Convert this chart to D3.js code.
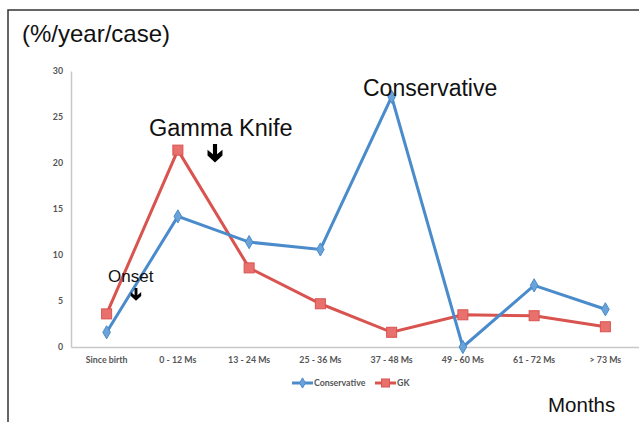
<!DOCTYPE html>
<html>
<head>
<meta charset="utf-8">
<script src="https://cdn.jsdelivr.net/npm/d3@7/dist/d3.min.js"></script>
<style>
  html, body { margin: 0; padding: 0; background: #fff; }
  svg { display: block; }
</style>
</head>
<body>
<svg id="chart" width="639" height="422"></svg>
<script>
// Chart data
const categories = ["Since birth", "0 - 12 Ms", "13 - 24 Ms", "25 - 36 Ms", "37 - 48 Ms", "49 - 60 Ms", "61 - 72 Ms", "> 73 Ms"]
const conservative = [1.6, 14.2, 11.4, 10.6, 27.2, 0, 6.7, 4.1]
const gk = [3.6, 21.4, 8.6, 4.7, 1.6, 3.5, 3.4, 2.2]
const yTicks = [0, 5, 10, 15, 20, 25, 30]

const svg = d3.select("#chart")
const W = 639, H = 422
const plot = { left: 71, right: 641, top: 71, bottom: 347 }

// Slide frame (top and left border)
svg.append("path")
  .attr("d", `M8,${H}V10H${W}`)
  .attr("fill", "none")
  .attr("stroke", "#333")
  .attr("stroke-width", 1.5)

const x = d3.scaleBand().domain(categories).range([plot.left, plot.right])
const y = d3.scaleLinear().domain([0, 30]).range([plot.bottom, plot.top])

const tickFont = sel => sel
  .attr("font-family", "Lato, sans-serif").attr("font-size", 8.8)
  .attr("font-weight", "bold").attr("fill", "#555")

// Axes
const yAxis = svg.append("g")
  .attr("transform", `translate(${plot.left},0)`)
  .call(d3.axisLeft(y).tickValues(yTicks).tickSize(0).tickPadding(8))
yAxis.select(".domain").attr("stroke", "#c8c8c8").attr("stroke-width", 1.5)
yAxis.selectAll("text").call(tickFont)

const xAxis = svg.append("g")
  .attr("transform", `translate(0,${plot.bottom})`)
  .call(d3.axisBottom(x).tickSize(0).tickPadding(10))
xAxis.select(".domain").attr("stroke", "#c8c8c8").attr("stroke-width", 1.5)
xAxis.selectAll("text").call(tickFont)

const cx = d => x(d) + x.bandwidth() / 2
const line = d3.line()
  .x((d, i) => cx(categories[i]))
  .y(d => y(d))

const blue = "#4a8bcb", red = "#d9534f"

// GK series (squares)
svg.append("path")
  .datum(gk)
  .attr("d", line)
  .attr("fill", "none").attr("stroke", red).attr("stroke-width", 3)
svg.append("g").selectAll("rect")
  .data(gk)
  .join("rect")
  .attr("x", (d, i) => cx(categories[i]) - 5)
  .attr("y", d => y(d) - 5)
  .attr("width", 10).attr("height", 10)
  .attr("fill", "#e8716d").attr("stroke", "#d9534f").attr("stroke-width", 1)

// Conservative series (diamonds)
svg.append("path")
  .datum(conservative)
  .attr("d", line)
  .attr("fill", "none").attr("stroke", blue).attr("stroke-width", 3)
svg.append("g").selectAll("path")
  .data(conservative)
  .join("path")
  .attr("d", d3.symbol(d3.symbolDiamond, 50))
  .attr("transform", (d, i) => `translate(${cx(categories[i])},${y(d)})`)
  .attr("fill", "#6aa3d9").attr("stroke", blue).attr("stroke-width", 1)

// Legend
const legend = svg.append("g").call(tickFont)
const legendItems = [
  { name: "Conservative", color: blue, x: 292, shape: "diamond" },
  { name: "GK", color: red, x: 375, shape: "square" }
]
legendItems.forEach(item => {
  const g = legend.append("g").attr("transform", `translate(${item.x},383)`)
  g.append("line").attr("x1", 0).attr("x2", 21).attr("stroke", item.color).attr("stroke-width", 3)
  if (item.shape === "diamond") {
    g.append("path").attr("d", d3.symbol(d3.symbolDiamond, 30))
      .attr("transform", "translate(10.5,0)").attr("fill", "#6aa3d9").attr("stroke", item.color)
  } else {
    g.append("rect").attr("x", 6.5).attr("y", -4).attr("width", 8).attr("height", 8)
      .attr("fill", "#e8716d").attr("stroke", item.color)
  }
  g.append("text").attr("x", 22).attr("dy", "0.35em").text(item.name)
})

// Annotations
const ann = svg.append("g").attr("font-family", "Liberation Sans, Arial, sans-serif").attr("fill", "#111")
ann.append("text").attr("x", 22).attr("y", 42).attr("font-size", 24).text("(%/year/case)")
ann.append("text").attr("x", 149).attr("y", 136).attr("font-size", 23.5).text("Gamma Knife")
ann.append("text").attr("x", 363).attr("y", 96).attr("font-size", 23).text("Conservative")
ann.append("text").attr("x", 108).attr("y", 282).attr("font-size", 17).text("Onset")
ann.append("text").attr("x", 548).attr("y", 412).attr("font-size", 20.5).text("Months")

// Down arrows
function arrow(ax, ay, s) {
  const p = d3.path()
  p.moveTo(ax - 1.8 * s, ay)
  p.lineTo(ax + 1.8 * s, ay)
  p.lineTo(ax + 1.8 * s, ay + 9 * s)
  p.lineTo(ax + 6.5 * s, ay + 5 * s)
  p.lineTo(ax + 6.5 * s, ay + 10 * s)
  p.lineTo(ax, ay + 16 * s)
  p.lineTo(ax - 6.5 * s, ay + 10 * s)
  p.lineTo(ax - 6.5 * s, ay + 5 * s)
  p.lineTo(ax - 1.8 * s, ay + 9 * s)
  p.closePath()
  svg.append("path").attr("d", p.toString()).attr("fill", "#000")
}
arrow(215, 144, 1.15)
arrow(136, 288, 0.8)
</script>
</body>
</html>
